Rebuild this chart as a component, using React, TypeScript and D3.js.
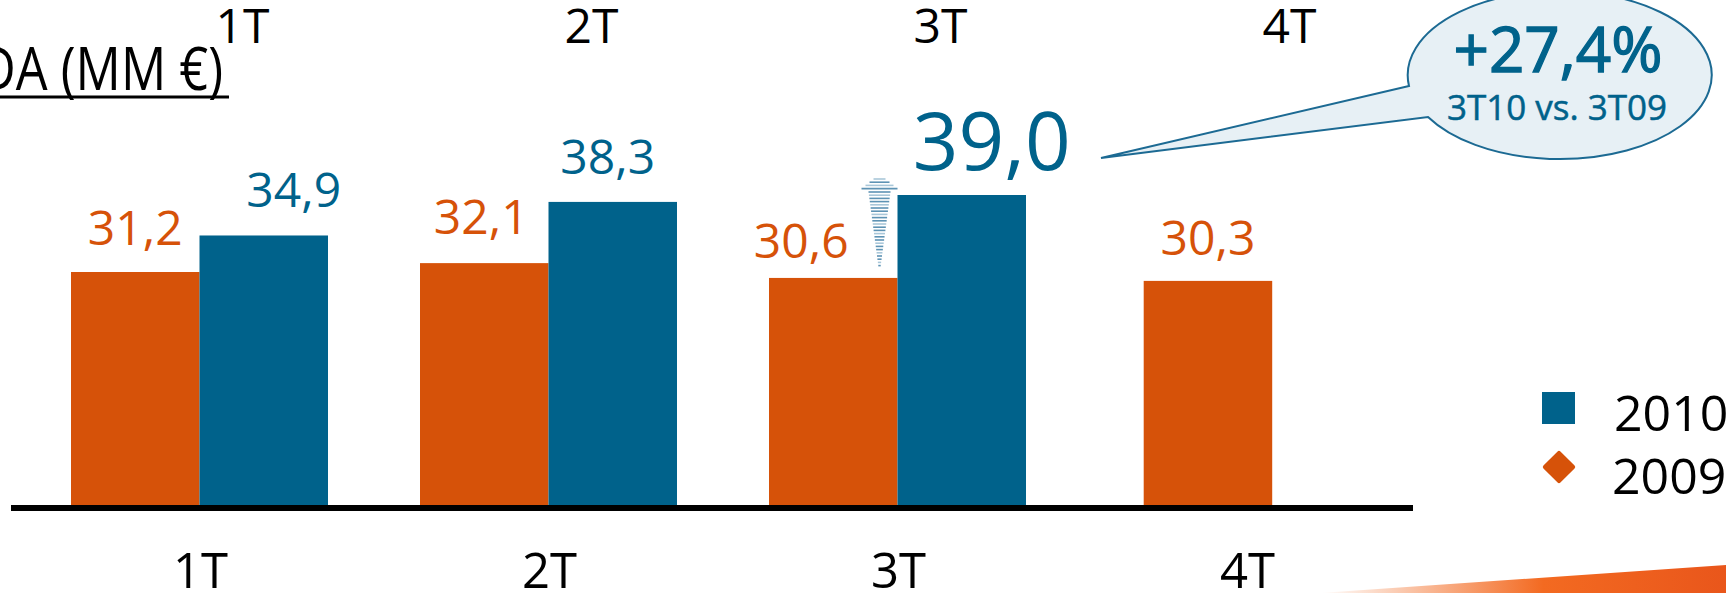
import React from 'react';
import * as d3 from 'd3';

const quarters = ['1T', '2T', '3T', '4T'];
const values2009 = [31.2, 32.1, 30.6, 30.3];
const values2010: (number | null)[] = [34.9, 38.3, 39.0, null];
const labels2009 = ['31,2', '32,1', '30,6', '30,3'];
const labels2010 = ['34,9', '38,3', '39,0', ''];
const legendItems = ['2010', '2009'];
const calloutMain = '+27,4%';
const calloutSub = '3T10 vs. 3T09';
const title = 'EBITDA (MM €)';

const W = 1726;
const H = 593;
const ORANGE = '#D65209';
const BLUE = '#00628B';
const FONT = "'Open Sans', 'Noto Sans', sans-serif";

// small label nudges
const nudge2009 = [{ dx: 0, dy: -27 }, { dx: -3, dy: -29 }, { dx: -32, dy: -20 }, { dx: 0, dy: -26 }];
const nudge2010 = [{ dx: 30, dy: -28 }, { dx: -5, dy: -28 }, { dx: 30, dy: -25 }, { dx: 0, dy: 0 }];

const App = () => {
    const x = d3.scaleBand().domain(quarters).range([25, 1421]).padding(0);
    const y = d3.scaleLinear().domain([7.5, 39]).range([506, 195]);
    const barW = 128.5;
    const base = y(7.5);
    const center = (q: string) => (x(q) ?? 0) + x.bandwidth() / 2;

    // striped arrow next to the 3T bars
    const arrowX = center('3T') - 18;
    const stripes: { y: number; w: number; light: boolean }[] = [];
    for (let i = 0; i < 4; i++) stripes.push({ y: 179 + i * 3.2, w: 12 + i * 8, light: i % 2 === 0 });
    for (let i = 0; i < 24; i++) stripes.push({ y: 192 + i * 3.2, w: Math.max(2, 22 - i * 0.85), light: i % 3 === 1 });

    const calloutPath = 'M 1409 86 L 1101 158 L 1428 117 A 152 84 0 1 0 1409 86 Z';

    return (
        <svg width={W} height={H} style={{ position: 'absolute', left: 0, top: 0, background: '#fff' }}>
            <defs>
                <linearGradient id="swoosh" x1="1320" y1="0" x2="1726" y2="0" gradientUnits="userSpaceOnUse">
                    <stop offset="0" stopColor="#F36A21" stopOpacity="0" />
                    <stop offset="0.55" stopColor="#F36A21" stopOpacity="1" />
                    <stop offset="1" stopColor="#E9561B" stopOpacity="1" />
                </linearGradient>
            </defs>

            {/* title, cut off at the left edge */}
            <text x={223} y={90} textAnchor="end" fontFamily={FONT} fontSize={60} fill="#000"
                transform="translate(223,0) scale(0.84,1) translate(-223,0)">{title}</text>
            <line x1={0} x2={229} y1={97} y2={97} stroke="#000" strokeWidth={3} />

            {/* top quarter labels */}
            {quarters.map(q => (
                <text key={'t' + q} x={center(q) + 43} y={43} textAnchor="middle" fontFamily={FONT} fontSize={48} fill="#000">{q}</text>
            ))}

            {/* bars */}
            {quarters.map((q, i) => {
                const c = center(q);
                const has2010 = values2010[i] != null;
                const ox = has2010 ? c - barW : c - barW * 0.8;
                return (
                    <g key={'b' + q}>
                        <rect x={ox} y={y(values2009[i])} width={barW} height={base - y(values2009[i])} fill={ORANGE} />
                        <text x={ox + barW / 2 + nudge2009[i].dx} y={y(values2009[i]) + nudge2009[i].dy} textAnchor="middle"
                            fontFamily={FONT} fontSize={48} fill={ORANGE}>{labels2009[i]}</text>
                        {has2010 && (
                            <>
                                <rect x={c} y={y(values2010[i] as number)} width={barW} height={base - y(values2010[i] as number)} fill={BLUE} />
                                <text x={c + barW / 2 + nudge2010[i].dx} y={y(values2010[i] as number) + nudge2010[i].dy} textAnchor="middle"
                                    fontFamily={FONT} fontSize={q === '3T' ? 80 : 48} fill={BLUE}>{labels2010[i]}</text>
                            </>
                        )}
                    </g>
                );
            })}

            {/* arrow */}
            <g>
                {stripes.map((s, i) => (
                    <line key={i} x1={arrowX - s.w / 2} x2={arrowX + s.w / 2} y1={s.y} y2={s.y}
                        stroke={s.light ? '#A9C7D9' : '#5E93B4'} strokeWidth={1.6} />
                ))}
            </g>

            {/* axis line */}
            <line x1={11} x2={1413} y1={508} y2={508} stroke="#000" strokeWidth={6} />

            {/* bottom quarter labels */}
            {quarters.map(q => (
                <text key={'q' + q} x={center(q) + 1} y={588} textAnchor="middle" fontFamily={FONT} fontSize={49} fill="#000">{q}</text>
            ))}

            {/* callout */}
            <path d={calloutPath} fill="#E7F0F5" stroke="#1C6A93" strokeWidth={2} />
            <text x={1558} y={72} textAnchor="middle" fontFamily={FONT} fontSize={62} fill={BLUE}
                stroke={BLUE} strokeWidth={1.3}>{calloutMain}</text>
            <text x={1557} y={120} textAnchor="middle" fontFamily={FONT} fontSize={35} fill={BLUE}
                stroke={BLUE} strokeWidth={0.5}>{calloutSub}</text>

            {/* legend */}
            <rect x={1542} y={392} width={33} height={32} fill={BLUE} />
            <text x={1614} y={431} fontFamily={FONT} fontSize={50} fill="#000">{legendItems[0]}</text>
            <rect x={1559 - 12} y={467 - 12} width={24} height={24} rx={2} fill={ORANGE} transform="rotate(45,1559,467)" />
            <text x={1612} y={494} fontFamily={FONT} fontSize={50} fill="#000">{legendItems[1]}</text>

            {/* decorative swoosh */}
            <polygon points="1320,593 1726,565 1726,593" fill="url(#swoosh)" />
        </svg>
    );
};

export default App;
